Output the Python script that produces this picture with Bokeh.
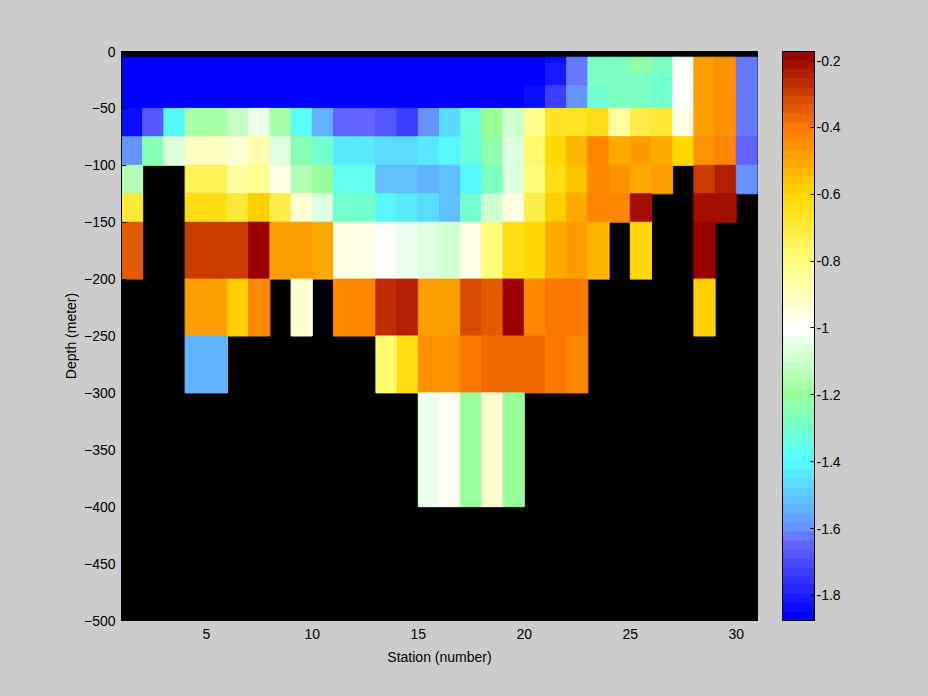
import numpy as np
from bokeh.plotting import figure
from bokeh.models import ColumnDataSource, LinearColorMapper, ColorBar, FixedTicker
from bokeh.embed import file_html
from bokeh.resources import INLINE

N = None
# station positions (cell edges) and depth levels (cell top edges, m)
stations = [1, 2, 3, 4, 5, 6, 7, 8, 9, 10, 11, 12, 13, 14, 15, 16, 17, 18, 19, 20,
            21, 22, 23, 24, 25, 26, 27, 28, 29, 30, 31]
depths = [5, 10, 20, 30, 50, 75, 100, 125, 150, 200, 250, 300, 400]

# values per depth level, stations 1..30
v_005 = [-1.87, -1.87, -1.87, -1.87, -1.87, -1.87, -1.87, -1.87, -1.87, -1.87, -1.87, -1.87, -1.87, -1.87, -1.87,
         -1.87, -1.87, -1.87, -1.87, -1.87, -1.84, -1.633, -1.276, -1.267, -1.233, -1.267, -1.014, -0.485, -0.458, -1.633]
v_010 = [-1.87, -1.87, -1.87, -1.87, -1.87, -1.87, -1.87, -1.87, -1.87, -1.87, -1.87, -1.87, -1.87, -1.87, -1.87,
         -1.87, -1.87, -1.87, -1.87, -1.87, -1.804, -1.633, -1.276, -1.267, -1.233, -1.267, -1.014, -0.485, -0.458, -1.633]
v_020 = [-1.87, -1.87, -1.87, -1.87, -1.87, -1.87, -1.87, -1.87, -1.87, -1.87, -1.87, -1.87, -1.87, -1.87, -1.87,
         -1.87, -1.87, -1.87, -1.87, -1.87, -1.804, -1.633, -1.276, -1.267, -1.267, -1.316, -1.014, -0.485, -0.458, -1.633]
v_030 = [-1.87, -1.87, -1.87, -1.87, -1.87, -1.87, -1.87, -1.87, -1.87, -1.87, -1.87, -1.87, -1.87, -1.87, -1.87,
         -1.87, -1.87, -1.87, -1.87, -1.84, -1.734, -1.586, -1.308, -1.267, -1.267, -1.316, -1.014, -0.485, -0.458, -1.633]
v_050 = [-1.84, -1.676, -1.41, -1.167, -1.167, -1.124, -1.033, -1.167, -1.39, -1.555, -1.65, -1.65, -1.676, -1.716, -1.586,
         -1.476, -1.333, -1.20, -1.10, -0.825, -0.673, -0.673, -0.645, -0.839, -0.725, -0.70, -0.946, -0.485, -0.458, -1.633]
v_075 = [-1.609, -1.245, -1.061, -0.913, -0.913, -0.926, -0.866, -1.061, -1.245, -1.308, -1.433, -1.433, -1.476, -1.476, -1.43,
         -1.40, -1.324, -1.229, -1.061, -0.775, -0.61, -0.535, -0.42, -0.497, -0.485, -0.51, -0.615, -0.458, -0.42, -1.65]
v_100 = [-1.155, N, N, -0.75, -0.75, -0.85, -0.825, -0.951, -1.139, -1.21, -1.355, -1.355, -1.508, -1.508, -1.555,
         -1.524, -1.40, -1.276, -1.061, -0.80, -0.63, -0.564, -0.42, -0.449, -0.51, -0.485, N, -0.295, -0.23, -1.586]
v_125 = [-0.70, N, N, -0.63, -0.63, -0.70, -0.582, -0.725, -0.926, -1.061, -1.308, -1.308, -1.40, -1.425, -1.476,
         -1.524, -1.292, -1.10, -0.946, -0.705, -0.593, -0.51, -0.42, -0.438, -0.20, N, N, -0.20, -0.20, N]
v_150 = [-0.345, N, N, -0.295, -0.295, -0.295, -0.18, -0.492, -0.492, -0.51, -0.957, -0.957, -1.022, -1.045, -1.067,
         -1.092, -0.964, -0.80, -0.645, -0.61, -0.51, -0.485, -0.535, N, -0.61, N, N, -0.18, N, N]
v_200 = [N, N, N, -0.485, -0.485, -0.582, -0.42, N, -0.926, N, -0.42, -0.42, -0.259, -0.23, -0.485,
         -0.485, -0.316, -0.345, -0.18, -0.42, -0.40, -0.40, N, N, N, N, N, -0.593, N, N]
v_250 = [N, N, N, -1.555, -1.555, N, N, N, N, N, N, N, -0.775, -0.63, -0.458,
         -0.458, -0.40, -0.373, -0.373, -0.373, -0.40, -0.43, N, N, N, N, N, N, N, N]
v_300 = [N, N, N, N, N, N, N, N, N, N, N, N, N, N, -1.045,
         -0.983, -1.20, -0.939, -1.186, N, N, N, N, N, N, N, N, N, N, N]
rows = [v_005, v_010, v_020, v_030, v_050, v_075, v_100, v_125, v_150, v_200, v_250, v_300]

cb_ticks = [-1.8, -1.6, -1.4, -1.2, -1.0, -0.8, -0.6, -0.4, -0.2]
cb_labels = ["-1.8", "-1.6", "-1.4", "-1.2", "-1", "-0.8", "-0.6", "-0.4", "-0.2"]
x_ticks = [5, 10, 15, 20, 25, 30]
y_ticks = [0, -50, -100, -150, -200, -250, -300, -350, -400, -450, -500]

# colormap anchors (value, rgb) -> 64-step palette
LOW, HIGH = -1.875, -0.173
anchors = [(-1.875, (0, 0, 255)), (-1.65, (102, 102, 255)), (-1.60, (102, 153, 255)),
           (-1.40, (85, 255, 255)), (-1.20, (153, 255, 153)), (-1.00, (255, 255, 255)),
           (-0.80, (255, 255, 128)), (-0.60, (255, 216, 0)), (-0.40, (255, 127, 0)),
           (-0.173, (153, 0, 0))]
av = [a[0] for a in anchors]
palette = []
for v in np.linspace(LOW, HIGH, 64):
    r = np.interp(v, av, [a[1][0] for a in anchors])
    g = np.interp(v, av, [a[1][1] for a in anchors])
    b = np.interp(v, av, [a[1][2] for a in anchors])
    palette.append("#%02x%02x%02x" % (int(round(r)), int(round(g)), int(round(b))))

mapper = LinearColorMapper(palette=palette, low=LOW, high=HIGH)

left, right, top, bottom, val = [], [], [], [], []
for i, row in enumerate(rows):
    for j, v in enumerate(row):
        if v is None:
            continue
        left.append(stations[j])
        right.append(stations[j + 1])
        top.append(-depths[i])
        bottom.append(-depths[i + 1])
        val.append(v)
src = ColumnDataSource(dict(left=left, right=right, top=top, bottom=bottom, val=val))

FONT = "Liberation Sans"
p = figure(width=928, height=696, x_range=(1, 31), y_range=(-500, 0),
           output_backend="svg", toolbar_location=None,
           min_border_left=121, min_border_right=171, min_border_top=51, min_border_bottom=76)
p.background_fill_color = "black"
p.border_fill_color = "#cccccc"
p.outline_line_color = "black"
p.grid.visible = False

cmap = {"field": "val", "transform": mapper}
p.quad(left="left", right="right", top="top", bottom="bottom", source=src,
       fill_color=cmap, line_color=cmap, line_width=1)

for ax in (p.xaxis[0], p.yaxis[0]):
    ax.major_tick_in = 5
    ax.major_tick_out = 0
    ax.minor_tick_line_color = None
    ax.major_label_text_font = FONT
    ax.major_label_text_font_size = "14px"
    ax.major_label_text_color = "black"
    ax.axis_label_text_font = FONT
    ax.axis_label_text_font_size = "14px"
    ax.axis_label_text_font_style = "normal"
    ax.axis_label_text_color = "black"
    ax.axis_line_color = "black"
    ax.major_tick_line_color = "black"

p.xaxis.ticker = FixedTicker(ticks=x_ticks)
p.yaxis.ticker = FixedTicker(ticks=y_ticks)
p.xaxis.axis_label = "Station (number)"
p.yaxis.axis_label = "Depth (meter)"
p.xaxis.major_label_standoff = 8
p.yaxis.major_label_standoff = 6
p.xaxis.axis_label_standoff = 7
p.yaxis.axis_label_standoff = 2

cb = ColorBar(color_mapper=mapper, ticker=FixedTicker(ticks=cb_ticks),
              major_label_overrides={t: l for t, l in zip(cb_ticks, cb_labels)},
              width=32, height=569, location=(25, 0), padding=0, margin=0,
              label_standoff=2, major_tick_in=4, major_tick_out=0,
              major_tick_line_color="black", bar_line_color="black",
              background_fill_color=None, border_line_color=None,
              major_label_text_font=FONT, major_label_text_font_size="14px",
              major_label_text_color="black")
p.add_layout(cb, "right")

html = file_html(p, INLINE)
html = html.replace("</head>", "<style>body{background-color:#cccccc;}</style></head>", 1)
open("out.html", "w").write(html)
